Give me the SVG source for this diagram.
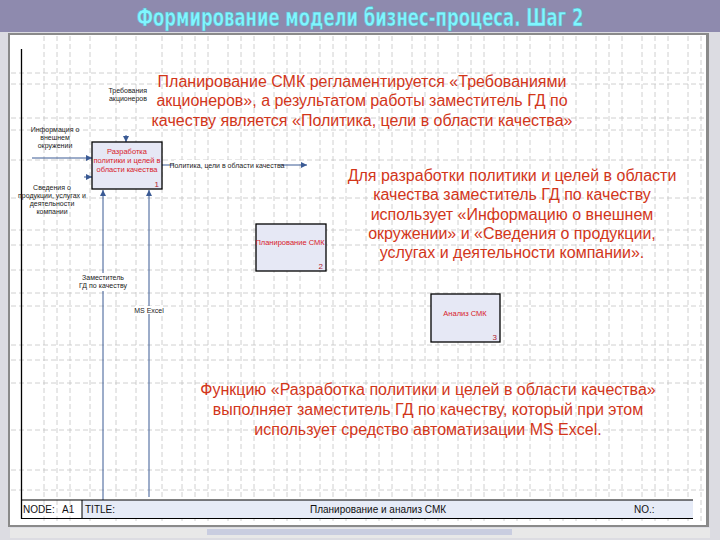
<svg xmlns="http://www.w3.org/2000/svg" width="720" height="540" viewBox="0 0 720 540">
<defs>
<style>
.grid line{stroke:#c4c4c4;stroke-width:0.8;stroke-dasharray:5 3}
.big{font-family:"Liberation Sans",Arial,sans-serif;font-size:16px;fill:#d2361a;text-anchor:middle}
.sm{font-family:"Liberation Sans",Arial,sans-serif;font-size:7px;fill:#222;text-anchor:middle}
.bx{fill:#e6e8f5;stroke:#000;stroke-width:1.3}
.bt{font-family:"Liberation Sans",Arial,sans-serif;font-size:7.5px;fill:#d8202a;text-anchor:middle}
.num{font-family:"Liberation Sans",Arial,sans-serif;font-size:8px;fill:#b02030;text-anchor:end}
.arr{stroke:#3a5a94;stroke-width:1;fill:none}
.bar{font-family:"Liberation Sans",Arial,sans-serif;font-size:10px;fill:#111}
</style>
<marker id="ah" viewBox="0 0 10 10" refX="10" refY="5" markerWidth="6" markerHeight="6" orient="auto" markerUnits="userSpaceOnUse">
<path d="M0,0 L10,5 L0,10 z" fill="#3a5a94"/>
</marker>
</defs>
<rect x="0" y="0" width="720" height="540" fill="#8e8aae"/>
<rect x="0" y="32" width="720" height="508" fill="#dcdce2"/>
<rect x="8" y="33" width="701" height="494" fill="#8a8a8a"/>
<rect x="10" y="35" width="696" height="490" fill="#ffffff"/>
<rect x="10" y="528" width="700" height="10" fill="#e8e8e8"/>
<rect x="207" y="529" width="305" height="6" fill="#c9cde0"/>
<g class="grid">
<line x1="44" y1="36" x2="44" y2="524"/><line x1="57" y1="36" x2="57" y2="524"/><line x1="70" y1="36" x2="70" y2="524"/>
<line x1="90" y1="36" x2="90" y2="524"/><line x1="116" y1="36" x2="116" y2="524"/>
<line x1="136" y1="36" x2="136" y2="524"/><line x1="162" y1="36" x2="162" y2="524"/>
<line x1="182" y1="36" x2="182" y2="524"/><line x1="195" y1="36" x2="195" y2="524"/><line x1="208" y1="36" x2="208" y2="524"/>
<line x1="228" y1="36" x2="228" y2="524"/><line x1="241" y1="36" x2="241" y2="524"/><line x1="254" y1="36" x2="254" y2="524"/>
<line x1="274" y1="36" x2="274" y2="524"/><line x1="287" y1="36" x2="287" y2="524"/><line x1="300" y1="36" x2="300" y2="524"/>
<line x1="320" y1="36" x2="320" y2="524"/><line x1="333" y1="36" x2="333" y2="524"/><line x1="346" y1="36" x2="346" y2="524"/>
<line x1="366" y1="36" x2="366" y2="524"/><line x1="379" y1="36" x2="379" y2="524"/><line x1="392" y1="36" x2="392" y2="524"/>
<line x1="412" y1="36" x2="412" y2="524"/><line x1="425" y1="36" x2="425" y2="524"/><line x1="438" y1="36" x2="438" y2="524"/>
<line x1="458" y1="36" x2="458" y2="524"/><line x1="471" y1="36" x2="471" y2="524"/><line x1="484" y1="36" x2="484" y2="524"/>
<line x1="504" y1="36" x2="504" y2="524"/><line x1="517" y1="36" x2="517" y2="524"/><line x1="530" y1="36" x2="530" y2="524"/>
<line x1="550" y1="36" x2="550" y2="524"/><line x1="563" y1="36" x2="563" y2="524"/><line x1="576" y1="36" x2="576" y2="524"/>
<line x1="596" y1="36" x2="596" y2="524"/><line x1="609" y1="36" x2="609" y2="524"/><line x1="622" y1="36" x2="622" y2="524"/>
<line x1="642" y1="36" x2="642" y2="524"/><line x1="655" y1="36" x2="655" y2="524"/><line x1="668" y1="36" x2="668" y2="524"/>
<line x1="688" y1="36" x2="688" y2="524"/><line x1="701" y1="36" x2="701" y2="524"/>
<line x1="11" y1="73" x2="705" y2="73"/><line x1="11" y1="84" x2="705" y2="84"/>
<line x1="11" y1="118" x2="705" y2="118"/><line x1="11" y1="130" x2="705" y2="130"/>
<line x1="11" y1="160" x2="705" y2="160"/><line x1="11" y1="198" x2="705" y2="198"/>
<line x1="11" y1="230" x2="705" y2="230"/><line x1="11" y1="245" x2="705" y2="245"/>
<line x1="11" y1="270" x2="705" y2="270"/><line x1="11" y1="293" x2="705" y2="293"/>
<line x1="11" y1="306" x2="705" y2="306"/><line x1="11" y1="345" x2="705" y2="345"/>
<line x1="11" y1="360" x2="705" y2="360"/><line x1="11" y1="383" x2="705" y2="383"/>
<line x1="11" y1="430" x2="705" y2="430"/><line x1="11" y1="470" x2="705" y2="470"/>
<line x1="11" y1="490" x2="705" y2="490"/>
</g>
<line x1="21.5" y1="49" x2="21.5" y2="519" stroke="#000" stroke-width="1.3"/>
<g id="connectors">
<line class="arr" x1="32" y1="158" x2="92" y2="158" marker-end="url(#ah)"/>
<line class="arr" x1="84" y1="177" x2="92" y2="177" marker-end="url(#ah)"/>
<line class="arr" x1="126" y1="135" x2="126" y2="142" marker-end="url(#ah)"/>
<line class="arr" x1="162" y1="165" x2="307" y2="165" marker-end="url(#ah)"/>
<line class="arr" x1="103" y1="503" x2="103" y2="190" marker-end="url(#ah)"/>
<line class="arr" x1="149" y1="497" x2="149" y2="190" marker-end="url(#ah)"/>
<rect x="174" y="160" width="106" height="9" fill="#fff"/>
<text class="sm" x="227" y="167.5">Политика, цели в области качества</text>
<text class="sm" x="55" y="132">Информация о</text>
<text class="sm" x="55" y="140">внешнем</text>
<text class="sm" x="55" y="148">окружении</text>
<text class="sm" x="52" y="190">Сведения о</text>
<text class="sm" x="52" y="198">продукции, услугах и</text>
<text class="sm" x="52" y="206">деятельности</text>
<text class="sm" x="52" y="214">компании</text>
<text class="sm" x="147" y="93" style="text-anchor:end">Требования</text>
<text class="sm" x="147" y="101" style="text-anchor:end">акционеров</text>
<rect x="82" y="273" width="43" height="18" fill="#fff"/>
<text class="sm" x="103" y="280">Заместитель</text>
<text class="sm" x="103" y="288">ГД по качеству</text>
<rect x="135" y="306" width="28" height="8" fill="#fff"/>
<text class="sm" x="149" y="312.5">MS Excel</text>
</g>
<g id="node1">
<rect class="bx" x="92" y="142" width="70" height="47"/>
<text class="bt" x="127" y="154">Разработка</text>
<text class="bt" x="127" y="163">политики и целей в</text>
<text class="bt" x="127" y="172">области качества</text>
<text class="num" x="159" y="187">1</text>
</g>
<g id="node2">
<rect class="bx" x="256" y="224" width="70" height="47"/>
<text class="bt" x="290" y="245">Планирование СМК</text>
<text class="num" x="323" y="269">2</text>
</g>
<g id="node3">
<rect class="bx" x="431" y="294" width="69" height="48"/>
<text class="bt" x="465" y="316">Анализ СМК</text>
<text class="num" x="497" y="340">3</text>
</g>
<g id="bar">
<rect x="82" y="500" width="611" height="18" fill="#e6ebf7"/>
<line x1="21" y1="500" x2="693" y2="500" stroke="#000" stroke-width="1.2"/>
<line x1="21" y1="518.5" x2="693" y2="518.5" stroke="#000" stroke-width="1.2"/>
<line x1="82" y1="500" x2="82" y2="518" stroke="#000" stroke-width="1"/>
<text class="bar" x="23" y="513">NODE:</text>
<text class="bar" x="62" y="513">A1</text>
<text class="bar" x="85" y="513">TITLE:</text>
<text class="bar" x="378" y="513" text-anchor="middle">Планирование и анализ СМК</text>
<text class="bar" x="634" y="513">NO.:</text>
</g>
<g id="text1">
<text class="big" x="362" y="87">Планирование СМК регламентируется «Требованиями</text>
<text class="big" x="362" y="106">акционеров», а результатом работы заместитель ГД по</text>
<text class="big" x="362" y="126">качеству является «Политика, цели в области качества»</text>
</g>
<g id="text2">
<text class="big" x="512" y="181">Для разработки политики и целей в области</text>
<text class="big" x="512" y="200">качества заместитель ГД по качеству</text>
<text class="big" x="512" y="220">использует «Информацию о внешнем</text>
<text class="big" x="512" y="239">окружении» и «Сведения о продукции,</text>
<text class="big" x="512" y="258">услугах и деятельности компании».</text>
</g>
<g id="text3">
<text class="big" x="428" y="395">Функцию «Разработка политики и целей в области качества»</text>
<text class="big" x="428" y="415">выполняет заместитель ГД по качеству, который при этом</text>
<text class="big" x="428" y="435">использует средство автоматизации MS Excel.</text>
</g>
<g id="title">
<text transform="translate(360,26) scale(1,1.35)" x="0" y="0" text-anchor="middle" font-family="'DejaVu Sans Condensed','Liberation Sans Narrow','Liberation Sans',sans-serif" font-weight="bold" font-size="18.3" fill="#80f6ff" stroke="#5aa8c0" stroke-width="0.4">Формирование модели бизнес-процеса. Шаг 2</text>
</g>
</svg>
